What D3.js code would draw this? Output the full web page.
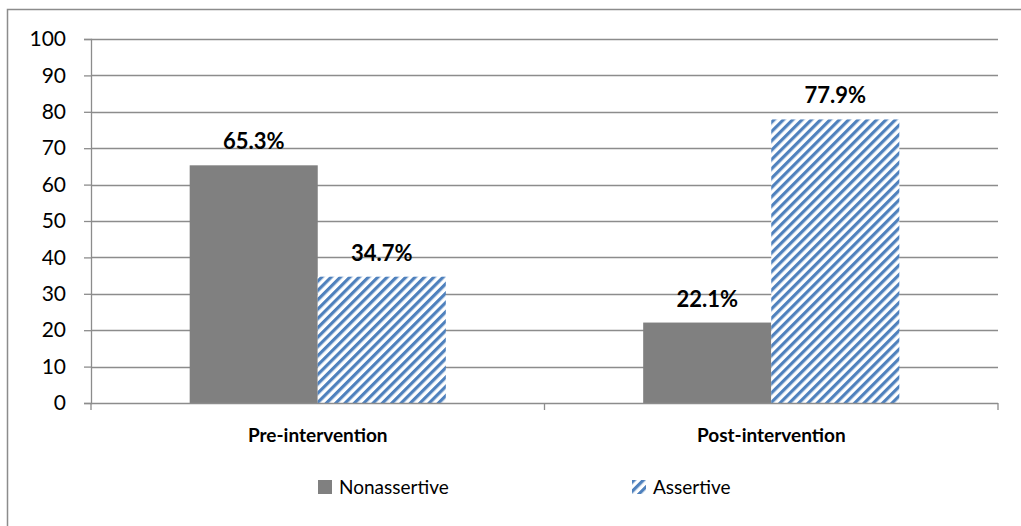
<!DOCTYPE html>
<html>
<head>
<meta charset="utf-8">
<script src="https://cdn.jsdelivr.net/npm/d3@7"></script>
<style>
  body { margin: 0; background: #fff; }
  svg text { font-family: Lato, "Open Sans", sans-serif; fill: #000; }
</style>
</head>
<body>
<div id="chart"></div>
<script>
// Data
const categories = ["Pre-intervention", "Post-intervention"];
const seriesNames = ["Nonassertive", "Assertive"];
const nonassertive = [65.3, 22.1];
const assertive = [34.7, 77.9];
const yTicks = [0, 10, 20, 30, 40, 50, 60, 70, 80, 90, 100];

const W = 1021, H = 526;
const margin = { top: 39, right: 23, bottom: 123, left: 91 },
      width = W - margin.left - margin.right,
      height = H - margin.top - margin.bottom;

const svg = d3.select("#chart").append("svg")
    .attr("width", W)
    .attr("height", H);

// outer chart border (only top/left visible)
svg.append("rect")
    .attr("x", 7.5).attr("y", 9.5)
    .attr("width", W + 20).attr("height", H + 20)
    .attr("fill", "none")
    .attr("stroke", "#8c8c8c")
    .attr("stroke-width", 1.5);

// hatch pattern
const defs = svg.append("defs");
const pat = defs.append("pattern")
    .attr("id", "hatch")
    .attr("patternUnits", "userSpaceOnUse")
    .attr("width", 6.6).attr("height", 6.6)
    .attr("patternTransform", "rotate(45)");
pat.append("rect").attr("width", 6.6).attr("height", 6.6).attr("fill", "#fff");
pat.append("rect").attr("x", 0).attr("width", 3.2).attr("height", 6.6).attr("fill", "#4f81bd");

const g = svg.append("g")
    .attr("transform", `translate(${margin.left},${margin.top})`);

const x0 = d3.scaleBand().domain(categories).range([0, width]);
const x1 = d3.scaleBand().domain(seriesNames)
    .range([x0.bandwidth() * 0.2176, x0.bandwidth() * 0.7824]);
const y = d3.scaleLinear().domain([0, 100]).range([height, 0]);

// gridlines
g.append("g")
  .selectAll("line")
  .data(yTicks.filter(d => d > 0))
  .enter().append("line")
    .attr("x1", 0).attr("x2", width)
    .attr("y1", d => Math.round(y(d)) + 0.5)
    .attr("y2", d => Math.round(y(d)) + 0.5)
    .attr("stroke", "#8c8c8c")
    .attr("stroke-width", 1.3);

// y axis
const yAxis = g.append("g")
    .call(d3.axisLeft(y).tickValues(yTicks).tickSize(7).tickPadding(18));
yAxis.select(".domain").attr("stroke", "#8c8c8c").attr("stroke-width", 1.3);
yAxis.selectAll(".tick line").attr("stroke", "#8c8c8c").attr("stroke-width", 1.3);
yAxis.selectAll("text").style("font-size", "21px").attr("fill", "#000");

// bars
const rows = categories.map((c, i) => ({ cat: c, vals: [nonassertive[i], assertive[i]] }));
const fills = ["#808080", "url(#hatch)"];

const grp = g.selectAll("g.cat")
    .data(rows)
    .enter().append("g")
    .attr("class", "cat")
    .attr("transform", d => `translate(${x0(d.cat)},0)`);

grp.selectAll("rect")
    .data(d => d.vals.map((v, j) => ({ key: seriesNames[j], v, j })))
    .enter().append("rect")
    .attr("x", d => x1(d.key))
    .attr("y", d => y(d.v))
    .attr("width", x1.bandwidth())
    .attr("height", d => height - y(d.v))
    .attr("fill", d => fills[d.j]);

grp.selectAll("text.lbl")
    .data(d => d.vals.map((v, j) => ({ key: seriesNames[j], v })))
    .enter().append("text")
    .attr("class", "lbl")
    .attr("x", d => x1(d.key) + x1.bandwidth() / 2)
    .attr("y", d => y(d.v) - 16)
    .attr("text-anchor", "middle")
    .style("font-size", "22px")
    .style("font-weight", "bold")
    .text(d => d.v.toFixed(1) + "%");

// x axis
const xAxis = g.append("g")
    .attr("transform", `translate(0,${height})`)
    .call(d3.axisBottom(x0).tickSize(0).tickPadding(26));
xAxis.select(".domain").remove();
xAxis.append("line")
    .attr("x1", 0).attr("x2", width)
    .attr("y1", 0.5).attr("y2", 0.5)
    .attr("stroke", "#8c8c8c").attr("stroke-width", 1.3);
xAxis.selectAll(".sep")
    .data([0, width / 2, width])
    .enter().append("line")
    .attr("x1", d => d).attr("x2", d => d)
    .attr("y1", 0).attr("y2", 7)
    .attr("stroke", "#8c8c8c").attr("stroke-width", 1.3);
xAxis.selectAll(".tick text")
    .style("font-size", "19px")
    .style("font-weight", "bold")
    .attr("fill", "#000");

// legend
const legend = svg.append("g").attr("class", "legend");
const legendX = [318, 632];
seriesNames.forEach((s, i) => {
    const lg = legend.append("g").attr("transform", `translate(${legendX[i]},480)`);
    lg.append("rect")
        .attr("width", 14).attr("height", 14)
        .attr("fill", fills[i]);
    lg.append("text")
        .attr("x", 21).attr("y", 14)
        .style("font-size", "19px")
        .text(s);
});
</script>
</body>
</html>
